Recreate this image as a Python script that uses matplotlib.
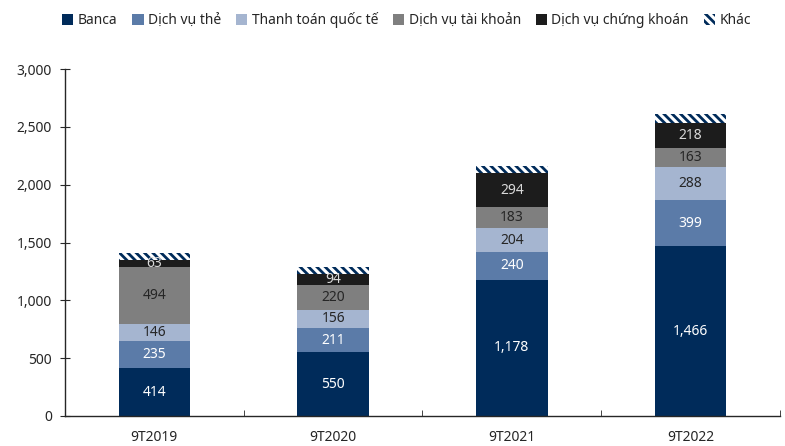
import numpy as np
import matplotlib
matplotlib.use('Agg')
import matplotlib.pyplot as plt

plt.rcParams['font.family'] = ['Noto Sans', 'DejaVu Sans']
plt.rcParams['hatch.linewidth'] = 2.0

categories = ['9T2019', '9T2020', '9T2021', '9T2022']
series_names = ['Banca', 'Dịch vụ thẻ', 'Thanh toán quốc tế', 'Dịch vụ tài khoản',
                'Dịch vụ chứng khoán', 'Khác']
banca = [414, 550, 1178, 1466]
the = [235, 211, 240, 399]
thanh_toan = [146, 156, 204, 288]
tai_khoan = [494, 220, 183, 163]
chung_khoan = [63, 94, 294, 218]
khac = [55, 55, 60, 75]

series = [banca, the, thanh_toan, tai_khoan, chung_khoan, khac]
colors = ['#002b5a', '#5b7ba8', '#a5b5d0', '#7f7f7f', '#1c1c1c', 'white']
text_colors = ['white', 'white', '#262626', '#262626', '#d9d9d9', None]

fig = plt.figure(figsize=(7.85, 4.46), dpi=100)
ax = fig.add_axes([0.0828, 0.0673, 0.9108, 0.7777])

x = np.arange(len(categories))
bottom = np.zeros(len(categories))
for name, vals, col, tcol in zip(series_names, series, colors, text_colors):
    vals = np.array(vals, dtype=float)
    if name == 'Khác':
        ax.bar(x, vals, 0.4, bottom=bottom, color='white', edgecolor='#002b5a',
               hatch='\\\\\\\\', linewidth=0, label=name)
    else:
        ax.bar(x, vals, 0.4, bottom=bottom, color=col, label=name)
        for xi, b, v in zip(x, bottom, vals):
            ax.text(xi, b + v / 2, f'{int(v):,}', ha='center', va='center',
                    color=tcol, fontsize=10)
    bottom += vals

ax.set_xlim(-0.5, 3.5)
ax.set_ylim(0, 3000)
ax.set_yticks(np.arange(0, 3001, 500))
ax.set_yticklabels([f'{int(v):,}' for v in np.arange(0, 3001, 500)])
ax.set_xticks(x)
ax.set_xticklabels(categories)
ax.set_xticks(np.arange(-0.5, 3.6, 1), minor=True)
ax.tick_params(axis='x', which='major', length=0, pad=10, labelsize=10, colors='#262626')
ax.tick_params(axis='x', which='minor', length=4, direction='in', color='#262626')
ax.tick_params(axis='y', length=7, direction='inout', labelsize=10, colors='#262626', pad=6)
for s in ['top', 'right']:
    ax.spines[s].set_visible(False)
for s in ['left', 'bottom']:
    ax.spines[s].set_color('#262626')
    ax.spines[s].set_linewidth(1)

fig.legend(loc='upper center', bbox_to_anchor=(0.518, 1.0), ncol=6, frameon=False,
           fontsize=10, handlelength=0.8, handleheight=0.8, handletextpad=0.3,
           columnspacing=1.1, labelcolor='#262626')

fig.savefig('out.png', dpi=100)
